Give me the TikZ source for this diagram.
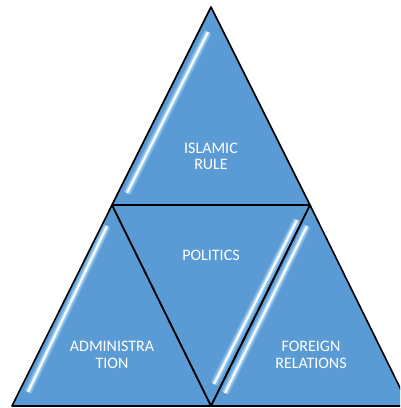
\documentclass[tikz,border=0pt]{standalone}
\usepackage{fontspec}
\setmainfont{Carlito}
\definecolor{tri}{RGB}{91,155,213}
\definecolor{glowblue}{RGB}{170,215,245}
\tikzset{
  tribox/.style={draw=black, line width=1.6pt, line join=round},
  lbl/.style={text=white, align=center, font=\fontsize{16}{16.5}\selectfont, inner sep=0pt},
  glowA/.style={draw=glowblue, opacity=0.35, line width=8pt},
  glowB/.style={draw=glowblue, opacity=0.7, line width=5pt},
  glowC/.style={draw=white, opacity=0.95, line width=2.2pt}
}
\newcommand{\glowline}[2]{%
  \path[glowA] (#1) -- (#2);
  \path[glowB] (#1) -- (#2);
  \path[glowC] (#1) -- (#2);
}
\begin{document}
\begin{tikzpicture}[x=1pt,y=-1pt]
\useasboundingbox (0,0) rectangle (400,408);
\clip (0,0) rectangle (400,408);
\coordinate (A) at (211,7);
\coordinate (L) at (112,205);
\coordinate (R) at (310,205);
\coordinate (BL) at (12,406);
\coordinate (BM) at (211,406);
\coordinate (BR) at (409,406);
% fills
\path[fill=tri] (A) -- (L) -- (R) -- cycle;
\path[fill=tri] (L) -- (BL) -- (BM) -- cycle;
\path[fill=tri] (L) -- (R) -- (BM) -- cycle;
\path[fill=tri] (R) -- (BM) -- (BR) -- cycle;
% glossy stripes
\coordinate (s1a) at (208,32);
\coordinate (s1b) at (127,193);
\coordinate (s2a) at (107,226);
\coordinate (s2b) at (28,392);
\coordinate (s3a) at (297,220);
\coordinate (s3b) at (214,384);
\coordinate (s4a) at (307,226);
\coordinate (s4b) at (225,393);
\glowline{s1a}{s1b}
\glowline{s2a}{s2b}
\glowline{s3a}{s3b}
\glowline{s4a}{s4b}
% outlines
\draw[tribox] (A) -- (L) -- (R) -- cycle;
\draw[tribox] (L) -- (BL) -- (BM) -- cycle;
\draw[tribox] (L) -- (R) -- (BM) -- cycle;
\draw[tribox] (R) -- (BM) -- (BR) -- cycle;
% labels
\node[lbl] (rule) at (211,156.5) {ISLAMIC\\RULE};
\node[lbl] (pol) at (211,255.5) {POLITICS};
\node[lbl] (adm) at (112,354.7) {ADMINISTRA\\TION};
\node[lbl] (for) at (311,354.7) {FOREIGN\\RELATIONS};
\end{tikzpicture}
\end{document}
